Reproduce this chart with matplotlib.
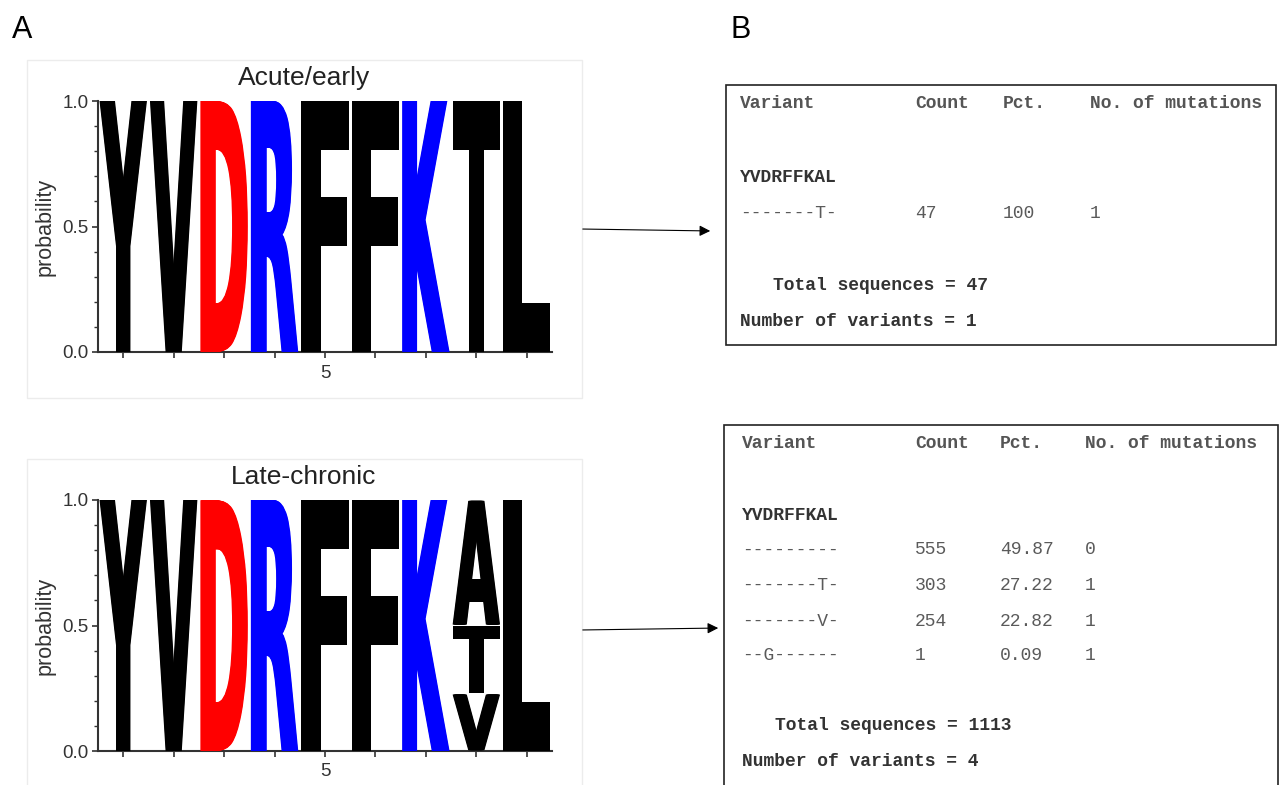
import numpy as np
import matplotlib
matplotlib.use('Agg')
import matplotlib.pyplot as plt
from matplotlib.textpath import TextPath
from matplotlib.font_manager import FontProperties
from matplotlib.patches import PathPatch, Rectangle, FancyArrowPatch
from matplotlib.transforms import Affine2D

# data
consensus = "YVDRFFKAL"
positions = list(range(1, 10))

acute_variants = ["-------T-"]
acute_counts = [47]
acute_pct = ["100"]
acute_muts = [1]

late_variants = ["---------", "-------T-", "-------V-", "--G------"]
late_counts = [555, 303, 254, 1]
late_pct = ["49.87", "27.22", "22.82", "0.09"]
late_muts = [0, 1, 1, 1]

letter_colors = {"D": "#ff0000", "R": "#0000ff", "K": "#0000ff"}

W, H = 1284, 785
fig = plt.figure(figsize=(W / 100, H / 100), dpi=100)

def fx(x):
    return x / W

def fy(y):
    return 1 - y / H

LOGO_FONT = FontProperties(family='DejaVu Sans', weight='bold')


def column_freqs(variants, counts):
    total = float(sum(counts))
    cols = []
    for i, c0 in enumerate(consensus):
        f = {}
        for v, n in zip(variants, counts):
            aa = c0 if v[i] == '-' else v[i]
            f[aa] = f.get(aa, 0) + n / total
        cols.append(f)
    return cols


def draw_letter(ax, ch, x0, y0, w, h, color, bold=0.065):
    # glyph squeezed a bit, then smeared sideways so the strokes get heavier
    tp = TextPath((0, 0), ch, size=1, prop=LOGO_FONT)
    bb = tp.get_extents()
    for dx in np.linspace(0, bold, 7):
        tr = Affine2D().translate(-bb.x0, -bb.y0).scale((w - bold) / bb.width, h / bb.height)
        tr = tr.translate(x0 + dx, y0)
        ax.add_patch(PathPatch(tr.transform_path(tp), fc=color, ec='none', zorder=3))


def logo(top_px, title, variants, counts):
    bot_px = top_px + 251
    ax = fig.add_axes([fx(98), fy(bot_px), (552 - 98) / W, 251 / H])
    cols = column_freqs(variants, counts)
    for pos, f in zip(positions, cols):
        items = sorted([(p, a) for a, p in f.items() if p > 0.01])
        y = 0.0
        gap = 0.007 if len(items) > 1 else 0.0
        for p, a in items:
            draw_letter(ax, a, pos - 0.47, y + gap / 2, 0.94, p - gap,
                        letter_colors.get(a, 'black'))
            y += p
    ax.set_xlim(0.5, 9.5)
    ax.set_ylim(0, 1)
    for s in ['top', 'right']:
        ax.spines[s].set_visible(False)
    for s in ['left', 'bottom']:
        ax.spines[s].set_color('#333333')
        ax.spines[s].set_linewidth(1.5)
    ax.set_yticks([0, 0.5, 1.0])
    ax.set_yticklabels(['0.0', '0.5', '1.0'])
    ax.set_yticks(np.arange(0, 1.01, 0.1), minor=True)
    ax.set_xticks(positions)
    ax.set_xticklabels(['5' if p == 5 else '' for p in positions])
    ax.tick_params(axis='both', which='major', direction='out', length=4, width=1.2,
                   color='#333333', labelsize=13.5, labelcolor='#333333')
    ax.tick_params(axis='y', which='minor', direction='out', length=3, width=1.0, color='#333333')
    ax.tick_params(axis='x', which='major', pad=5)
    ax.tick_params(axis='y', which='major', pad=3)
    for lab in ax.get_xticklabels() + ax.get_yticklabels():
        lab.set_family('Liberation Sans')
    ax.set_ylabel('probability', family='Liberation Sans', fontsize=15.5, color='#333333')
    ax.yaxis.set_label_coords(-0.093, 0.5)
    ax.patch.set_alpha(0)
    fig.text(fx(304), fy(top_px - 23), title, ha='center', va='center',
             family='Liberation Sans', fontsize=19, color='#222222')
    # faint frame around the logo image
    fig.add_artist(Rectangle((fx(27), fy(bot_px + 46)), (582 - 27) / W, (bot_px + 46 - top_px + 41) / H,
                             transform=fig.transFigure, fill=False, ec='#ececec', lw=1))
    return ax


logo(101, 'Acute/early', acute_variants, acute_counts)
logo(500, 'Late-chronic', late_variants, late_counts)

fig.text(fx(22), fy(30), 'A', ha='center', va='center', family='Liberation Sans', fontsize=22)
fig.text(fx(741), fy(30), 'B', ha='center', va='center', family='Liberation Sans', fontsize=22)

MONO = 'Liberation Mono'


def table(box, cols_x, rows_y, head_y, cons_y, tot_y, num_y, tot_x, variants, counts, pct, muts):
    x0, y0, x1, y1 = box
    fig.add_artist(Rectangle((fx(x0), fy(y1)), (x1 - x0) / W, (y1 - y0) / H,
                             transform=fig.transFigure, fill=False, ec='#222222', lw=1.2))
    kw = dict(va='center', ha='left', family=MONO, fontsize=13)
    for x, s in zip(cols_x, ['Variant', 'Count', 'Pct.', 'No. of mutations']):
        fig.text(fx(x), fy(head_y), s, color='#555555', weight='bold', **kw)
    fig.text(fx(cols_x[0]), fy(cons_y), consensus, color='#333333', weight='bold', **kw)
    for y, v, c, p, m in zip(rows_y, variants, counts, pct, muts):
        for x, s in zip(cols_x, [v, str(c), p, str(m)]):
            fig.text(fx(x), fy(y), s, color='#5a5a5a', **kw)
    fig.text(fx(tot_x), fy(tot_y), 'Total sequences = %d' % sum(counts),
             color='#333333', weight='bold', **kw)
    fig.text(fx(cols_x[0]), fy(num_y), 'Number of variants = %d' % len(variants),
             color='#333333', weight='bold', **kw)


table((726, 85, 1276, 345), [740, 915, 1003, 1090], [213], 104, 178, 286, 322, 773,
      acute_variants, acute_counts, acute_pct, acute_muts)
table((724, 425, 1278, 792), [742, 915, 1000, 1085], [550, 586, 621, 656], 444, 516, 726, 762, 775,
      late_variants, late_counts, late_pct, late_muts)

# arrows from logos to tables
for (xa, ya), (xb, yb) in [((580, 229), (713, 231)), ((580, 630), (721, 628))]:
    fig.add_artist(FancyArrowPatch((fx(xa), fy(ya)), (fx(xb), fy(yb)), transform=fig.transFigure,
                                   arrowstyle='-|>', mutation_scale=16, lw=0.8, color='black'))

fig.savefig('out.png', dpi=100)
